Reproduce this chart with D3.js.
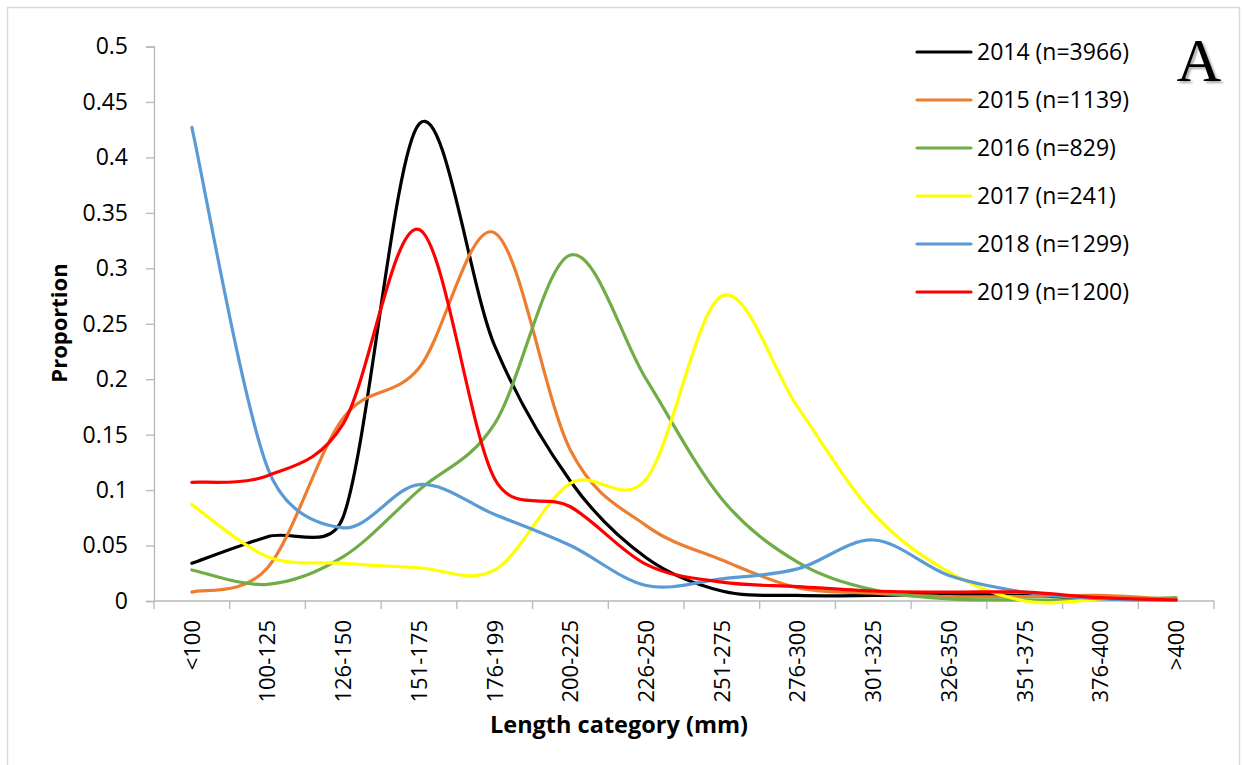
<!DOCTYPE html>
<html>
<head>
<meta charset="utf-8">
<script src="https://cdn.jsdelivr.net/npm/d3@7/dist/d3.min.js"></script>
<style>
  html, body { margin: 0; padding: 0; background: #fff; }
  svg { display: block; }
</style>
</head>
<body>
<svg id="chart" width="1244" height="765"></svg>
<script>
// Length categories (mm)
const categories = ["<100", "100-125", "126-150", "151-175", "176-199", "200-225", "226-250",
  "251-275", "276-300", "301-325", "326-350", "351-375", "376-400", ">400"];

// Proportion of fish in each length category, by year
const v2014 = [0.034, 0.058, 0.076, 0.430, 0.230, 0.108, 0.039, 0.009, 0.005, 0.005, 0.006, 0.005, 0.002, 0.001];
const v2015 = [0.008, 0.030, 0.165, 0.210, 0.332, 0.136, 0.068, 0.037, 0.012, 0.007, 0.004, 0.004, 0.005, 0.001];
const v2016 = [0.028, 0.015, 0.040, 0.100, 0.160, 0.312, 0.200, 0.092, 0.035, 0.010, 0.002, 0.001, 0.001, 0.003];
const v2017 = [0.087, 0.040, 0.034, 0.030, 0.028, 0.106, 0.110, 0.275, 0.175, 0.079, 0.026, 0.000, 0.001, 0.001];
const v2018 = [0.427, 0.120, 0.066, 0.105, 0.078, 0.050, 0.014, 0.020, 0.029, 0.055, 0.023, 0.008, 0.002, 0.001];
const v2019 = [0.107, 0.113, 0.160, 0.335, 0.110, 0.085, 0.033, 0.017, 0.013, 0.009, 0.008, 0.008, 0.003, 0.001];

const seriesNames = ["2014 (n=3966)", "2015 (n=1139)", "2016 (n=829)", "2017 (n=241)", "2018 (n=1299)", "2019 (n=1200)"];
const seriesValues = [v2014, v2015, v2016, v2017, v2018, v2019];
const seriesColors = ["#000000", "#ED7D31", "#70AD47", "#FFFF00", "#5B9BD5", "#FF0000"];

const yTicks = [0, 0.05, 0.1, 0.15, 0.2, 0.25, 0.3, 0.35, 0.4, 0.45, 0.5];

const svg = d3.select("#chart");
const FONT = "'Open Sans', 'Noto Sans', sans-serif";
const AXIS_GREY = "#b8b8b8";

// Spreadsheet-style smoothing: cubic Bezier segments whose control arms are
// 1/6 of the neighbour chord, capped at half of the adjacent segment length.
function SmoothCurve(context) { this._context = context; }
SmoothCurve.prototype = {
  areaStart() {}, areaEnd() {},
  lineStart() { this._pts = []; },
  point(px, py) { this._pts.push([+px, +py]); },
  lineEnd() {
    const p = this._pts, n = p.length, ctx = this._context;
    if (!n) return;
    ctx.moveTo(p[0][0], p[0][1]);
    if (n === 1) return;
    const dist = (a, b) => Math.hypot(b[0] - a[0], b[1] - a[1]);
    const f = 1 / 6;
    for (let i = 0; i < n - 1; i++) {
      const p0 = p[Math.max(i - 1, 0)], p1 = p[i], p2 = p[i + 1], p3 = p[Math.min(i + 2, n - 1)];
      const seg = dist(p1, p2);
      const d02 = dist(p0, p2), d13 = dist(p1, p3);
      let fa = f, fb = f;
      if (d02 > 0 && fa * d02 > seg / 2) fa = seg / (2 * d02);
      if (d13 > 0 && fb * d13 > seg / 2) fb = seg / (2 * d13);
      const c1 = [p1[0] + fa * (p2[0] - p0[0]), p1[1] + fa * (p2[1] - p0[1])];
      const c2 = [p2[0] - fb * (p3[0] - p1[0]), p2[1] - fb * (p3[1] - p1[1])];
      ctx.bezierCurveTo(c1[0], c1[1], c2[0], c2[1], p2[0], p2[1]);
    }
  }
};
const curveSmooth = context => new SmoothCurve(context);

// outer chart frame
svg.append("rect")
  .attr("x", 7.5).attr("y", 7.5)
  .attr("width", 1232).attr("height", 780)
  .attr("fill", "none").attr("stroke", "#d9d9d9").attr("stroke-width", 1.5);

const plot = { left: 154, right: 1214, top: 46.5, bottom: 601 };

const x = d3.scaleBand().domain(categories).range([plot.left, plot.right]).padding(0);
const xc = d => x(d) + x.bandwidth() / 2;
const y = d3.scaleLinear().domain([0, 0.5]).range([plot.bottom, plot.top]);

// y axis
const yAxis = svg.append("g").attr("transform", `translate(${plot.left},0)`)
  .call(d3.axisLeft(y).tickValues(yTicks).tickSize(8).tickPadding(18)
    .tickFormat(d => d === 0 ? "0" : String(+d.toFixed(2))));
yAxis.select(".domain").attr("stroke", AXIS_GREY).attr("stroke-width", 1.3);
yAxis.selectAll(".tick line").attr("stroke", AXIS_GREY).attr("stroke-width", 1.3);
yAxis.selectAll(".tick text")
  .attr("font-family", FONT).attr("font-size", 23).attr("fill", "#000");

// x axis with ticks on band boundaries
const xAxis = svg.append("g").attr("transform", `translate(0,${plot.bottom})`);
xAxis.append("line")
  .attr("x1", plot.left).attr("x2", plot.right)
  .attr("stroke", AXIS_GREY).attr("stroke-width", 1.3);
const boundaries = categories.map(c => x(c)).concat([plot.right]);
xAxis.selectAll("line.tk").data(boundaries).join("line")
  .attr("class", "tk")
  .attr("x1", d => d).attr("x2", d => d)
  .attr("y1", 0).attr("y2", 8)
  .attr("stroke", AXIS_GREY).attr("stroke-width", 1.3);
xAxis.selectAll("text.cat").data(categories).join("text")
  .attr("class", "cat")
  .attr("transform", d => `translate(${xc(d)},19) rotate(-90)`)
  .attr("text-anchor", "end")
  .attr("dy", "0.36em")
  .attr("font-family", FONT).attr("font-size", 22).attr("fill", "#000")
  .text(d => d);

// axis titles
svg.append("text")
  .attr("x", 619).attr("y", 733)
  .attr("text-anchor", "middle")
  .attr("font-family", FONT).attr("font-weight", "bold").attr("font-size", 23.5)
  .text("Length category (mm)");
svg.append("text")
  .attr("transform", "translate(67,323) rotate(-90)")
  .attr("text-anchor", "middle")
  .attr("font-family", FONT).attr("font-weight", "bold").attr("font-size", 22)
  .text("Proportion");

// smoothed lines
const line = d3.line()
  .x((d, i) => xc(categories[i]))
  .y(d => y(d))
  .curve(curveSmooth);

svg.append("g").selectAll("path").data(seriesValues).join("path")
  .attr("d", d => line(d))
  .attr("fill", "none")
  .attr("stroke", (d, i) => seriesColors[i])
  .attr("stroke-width", 3.2)
  .attr("stroke-linejoin", "round")
  .attr("stroke-linecap", "round");

// legend
const legend = svg.append("g");
const lg = legend.selectAll("g").data(seriesNames).join("g")
  .attr("transform", (d, i) => `translate(917,${52 + i * 48})`);
lg.append("line")
  .attr("x1", 0).attr("x2", 54)
  .attr("stroke", (d, i) => seriesColors[i])
  .attr("stroke-width", 3.2).attr("stroke-linecap", "round");
lg.append("text")
  .attr("x", 60).attr("dy", "0.36em")
  .attr("font-family", FONT).attr("font-size", 23).attr("fill", "#000")
  .text(d => d);

// panel letter
const defs = svg.append("defs");
const f = defs.append("filter").attr("id", "shadow").attr("x", "-20%").attr("y", "-20%").attr("width", "150%").attr("height", "150%");
f.append("feDropShadow").attr("dx", 2).attr("dy", 2).attr("stdDeviation", 1.2)
  .attr("flood-color", "#000").attr("flood-opacity", 0.35);
svg.append("text")
  .attr("x", 1199).attr("y", 81)
  .attr("text-anchor", "middle")
  .attr("font-family", "'Liberation Serif', 'DejaVu Serif', serif")
  .attr("font-size", 62)
  .attr("filter", "url(#shadow)")
  .text("A");
</script>
</body>
</html>
